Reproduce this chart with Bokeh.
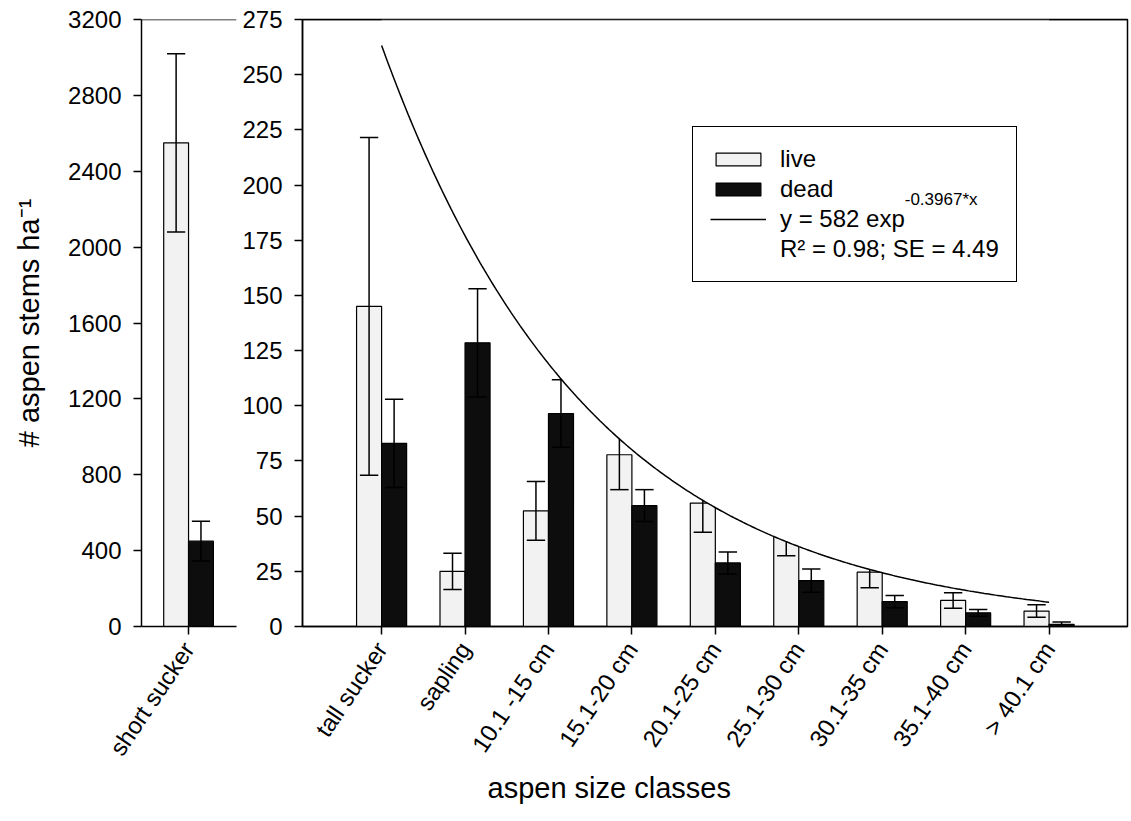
import math
import numpy as np
from bokeh.plotting import figure
from bokeh.models import (Range1d, FixedTicker, Span, Legend, LegendItem, Title)
from bokeh.core.properties import value
from bokeh.layouts import row
from bokeh.embed import file_html
from bokeh.resources import INLINE

FONT = "Liberation Sans"

# ---------------- data ----------------
short_categories = ["short sucker"]
short_live = [2550]
short_live_se = [470]
short_dead = [450]
short_dead_se = [105]

categories = ["tall sucker", "sapling", "10.1 -15 cm", "15.1-20 cm", "20.1-25 cm",
              "25.1-30 cm", "30.1-35 cm", "35.1-40 cm", "> 40.1 cm"]
live = [145, 25, 52.4, 77.8, 55.9, 42, 24.6, 11.8, 7.0]
live_se = [76.5, 8.2, 13.3, 15.8, 13.2, 10, 7.1, 3.5, 2.8]
dead = [83, 128.5, 96.5, 54.8, 28.8, 20.8, 11.3, 6.2, 1.0]
dead_se = [20, 24.5, 15.3, 7.2, 5.0, 5.3, 2.8, 1.5, 1.0]

left_yticks = [0, 400, 800, 1200, 1600, 2000, 2400, 2800, 3200]
right_yticks = [0, 25, 50, 75, 100, 125, 150, 175, 200, 225, 250, 275]

fit_a = 582.0
fit_b = 0.3967
legend_labels = ["live", "dead", "y = 582 exp", "R\u00b2 = 0.98; SE = 4.49"]
fit_exponent_label = "-0.3967*x"

# ---------------- style ----------------
LIVE_COLOR = "#f2f2f2"
DEAD_COLOR = "#0d0d0d"
H = 815
TOP = 19
BOTTOM = H - 626
BAR_W = 0.3
CAP = 0.11
TICK_FS = "24px"
TITLE_FS = "29px"


def style_axes(p):
    for ax in p.axis:
        ax.axis_line_width = 1.5
        ax.axis_line_color = "black"
        ax.major_tick_line_width = 1.5
        ax.major_tick_line_color = "black"
        ax.major_tick_out = 8
        ax.major_tick_in = 0
        ax.minor_tick_line_color = None
        ax.major_label_text_font = FONT
        ax.major_label_text_font_size = TICK_FS
        ax.major_label_text_color = "black"
        ax.axis_label_text_font = FONT
        ax.axis_label_text_font_size = TITLE_FS
        ax.axis_label_text_font_style = "normal"
        ax.axis_label_text_color = "black"
    p.grid.visible = False


def draw_bars(p, pos, lv, lse, dv, dse):
    xl = [x - BAR_W / 2 for x in pos]
    xd = [x + BAR_W / 2 for x in pos]
    rl = p.vbar(x=xl, width=BAR_W, top=lv, bottom=0, fill_color=LIVE_COLOR,
                line_color="black", line_width=1.2)
    rd = p.vbar(x=xd, width=BAR_W, top=dv, bottom=0, fill_color=DEAD_COLOR,
                line_color="black", line_width=1.2)
    for xs, v, e in ((xl, lv, lse), (xd, dv, dse)):
        lo = [a - b for a, b in zip(v, e)]
        hi = [a + b for a, b in zip(v, e)]
        p.segment(x0=xs, y0=lo, x1=xs, y1=hi, line_color="black", line_width=1.5)
        p.segment(x0=[x - CAP for x in xs], y0=hi, x1=[x + CAP for x in xs], y1=hi,
                  line_color="black", line_width=1.5)
        p.segment(x0=[x - CAP for x in xs], y0=lo, x1=[x + CAP for x in xs], y1=lo,
                  line_color="black", line_width=1.5)
    return rl, rd


# ---------------- left panel ----------------
short_pos = [1 + i for i in range(len(short_categories))]
pl = figure(width=238, height=H, x_range=Range1d(0.432, 1.579), y_range=Range1d(0, 3200),
            output_backend="svg", toolbar_location=None,
            min_border_left=141, min_border_right=2, min_border_top=TOP,
            min_border_bottom=BOTTOM)
pl.outline_line_color = None
style_axes(pl)
pl.yaxis.ticker = FixedTicker(ticks=left_yticks)
pl.yaxis.major_label_standoff = 12
pl.yaxis.axis_label = "# aspen stems ha\u207b\u00b9"
pl.yaxis.axis_label_standoff = 20
pl.xaxis.ticker = FixedTicker(ticks=short_pos)
pl.xaxis.major_label_overrides = {p_: c for p_, c in zip(short_pos, short_categories)}
pl.xaxis.major_label_orientation = math.radians(56)
pl.xaxis.major_label_standoff = 10
draw_bars(pl, short_pos, short_live, short_live_se, short_dead, short_dead_se)
pl.add_layout(Span(location=3200, dimension="width", line_color="black", line_width=1.5))

# ---------------- right panel ----------------
pos = [2 + i for i in range(len(categories))]
pr = figure(width=893, height=H, x_range=Range1d(1.052, 10.94), y_range=Range1d(0, 275),
            output_backend="svg", toolbar_location=None,
            min_border_left=64, min_border_right=4, min_border_top=TOP,
            min_border_bottom=BOTTOM)
pr.outline_line_color = "black"
pr.outline_line_width = 1.5
style_axes(pr)
pr.yaxis.ticker = FixedTicker(ticks=right_yticks)
pr.yaxis.major_label_standoff = 12
pr.xaxis.ticker = FixedTicker(ticks=pos)
pr.xaxis.major_label_overrides = {p_: c for p_, c in zip(pos, categories)}
pr.xaxis.major_label_orientation = math.radians(56)
pr.xaxis.major_label_standoff = 10

r_live, r_dead = draw_bars(pr, pos, live, live_se, dead, dead_se)

xs = np.linspace(pos[0], pos[-1], 300)
ys = fit_a * np.exp(-fit_b * xs)
pr.varea(x=xs, y1=ys, y2=275, fill_color="white")
r_fit = pr.line(xs, ys, line_color="black", line_width=1.5)
r_dummy = pr.line(x=[], y=[], line_alpha=0)
pr.add_layout(Span(location=275, dimension="width", line_color="black", line_width=1.5))

# superscript of the fitted equation (legend row 3)
pr.text(x=[8.27], y=[193.5], text=[fit_exponent_label], text_font=value(FONT),
        text_font_size="17px", text_baseline="alphabetic", text_align="left",
        text_color="black")

legend = Legend(items=[LegendItem(label=legend_labels[0], renderers=[r_live]),
                       LegendItem(label=legend_labels[1], renderers=[r_dead]),
                       LegendItem(label=legend_labels[2], renderers=[r_fit]),
                       LegendItem(label=legend_labels[3], renderers=[r_dummy])],
                location=(390, 344), glyph_width=56, glyph_height=16, label_standoff=14,
                padding=17, spacing=0, label_height=30, margin=0,
                label_text_font=FONT, label_text_font_size="24px",
                label_text_color="black",
                border_line_color="black", border_line_width=1.5, border_line_alpha=1.0,
                background_fill_alpha=0.0)
pr.add_layout(legend)

pr.add_layout(Title(text="aspen size classes", align="left", offset=185,
                    text_font=FONT, text_font_size=TITLE_FS, text_font_style="normal",
                    text_color="black", standoff=5), "below")

layout = row(pl, pr)
open("out.html", "w").write(file_html(layout, INLINE))
